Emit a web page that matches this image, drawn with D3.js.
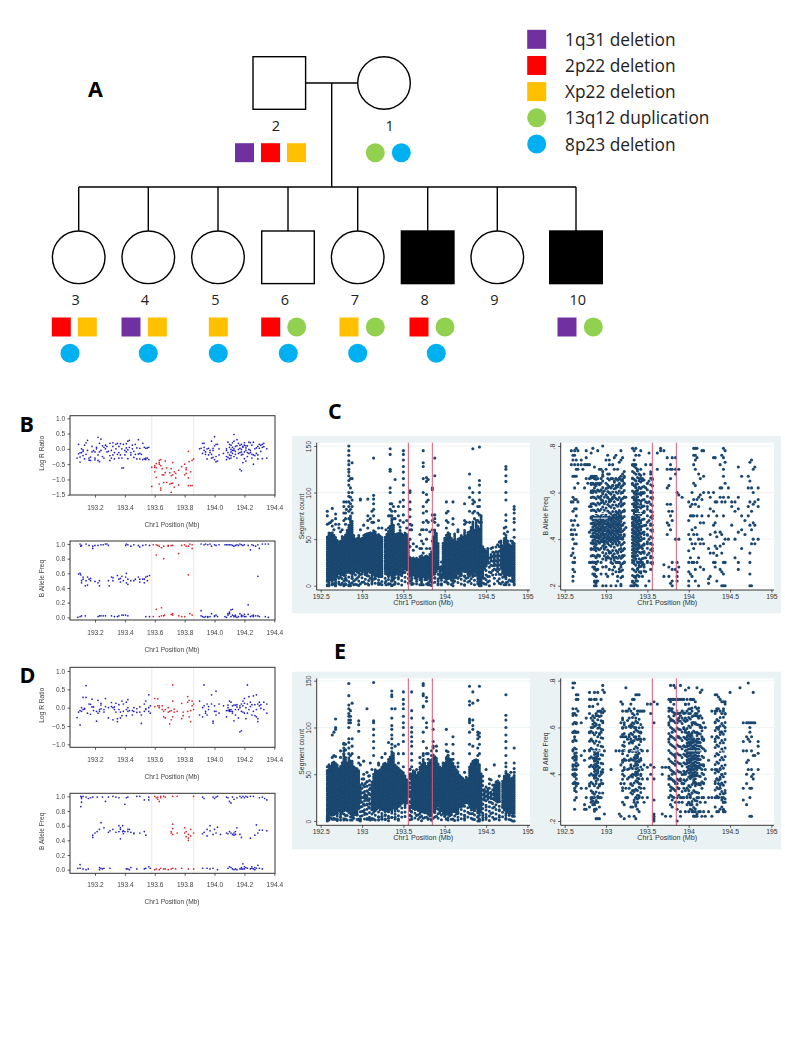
<!DOCTYPE html>
<html><head><meta charset="utf-8">
<script src="https://cdn.jsdelivr.net/npm/d3@7/dist/d3.min.js"></script>
<style>html,body{margin:0;padding:0;background:#fff}svg{display:block}</style>
</head><body><svg id="c" width="785" height="1046"></svg>
<script>
// ---------- Pedigree data ----------
const legendLabels=["1q31 deletion","2p22 deletion","Xp22 deletion","13q12 duplication","8p23 deletion"];
const people=[
 {id:2,sex:"m",affected:0},{id:1,sex:"f",affected:0},
 {id:3,sex:"f",affected:0},{id:4,sex:"f",affected:0},{id:5,sex:"f",affected:0},{id:6,sex:"m",affected:0},
 {id:7,sex:"f",affected:0},{id:8,sex:"m",affected:1},{id:9,sex:"f",affected:0},{id:10,sex:"m",affected:1}];
const carried={2:[0,1,2],1:[3,4],3:[1,2,4],4:[0,2,4],5:[2,4],6:[1,3,4],7:[2,3,4],8:[1,3,4],9:[],10:[0,3]};

// ---------- SNP array: [position, value, value ...] ----------
const regionStart=193.58, regionEnd=193.86;
const bLogR=[[193.08,-.3],[193.09,.15,-.16],[193.1,-.43,-.27,-.13],[193.11,0,-.12],[193.12,-.03,-.22,-.08],[193.13,-.33,.12],[193.14,.2,-.18],[193.15,.28,-.05],[193.16,-.3,-.37],[193.17,-.27,-.38],[193.18,.08,-.1],[193.19,-.06],[193.2,-.1,-.3,-.36],[193.21,0,.05],[193.22,.38,-.2,-.38],[193.23,-.1,-.42,.18],[193.24,-.05,.32],[193.25,.1,-.25],[193.26,.05,-.3],[193.27,.12,0],[193.28,.08,-.1],[193.29,-.08],[193.3,.18,-.22,-.38],[193.31,-.05,-.3],[193.32,.2,.08,-.2],[193.33,-.12,-.33],[193.34,0,.15],[193.35,.18,-.18],[193.36,.08,-.12,-.3],[193.37,.17,-.2],[193.38,-.63,0,-.3],[193.39,-.62,.15],[193.4,-.05,-.2],[193.41,.03,-.1,.17],[193.42,.25,-.03,-.32],[193.43,.28,.05],[193.44,-.12,-.2],[193.45,0,.12],[193.46,-.08,-.28],[193.47,-.18,.15],[193.48,-.33,.03],[193.49,-.17,.3],[193.5,-.33,-.15,.02],[193.51,-.18],[193.52,-.35,.18],[193.53,-.33,.05],[193.54,-.3,.02,-.35],[193.55,.03,-.3],[193.56,.05,-.35],
[193.58,-1.23,-.6],[193.6,-.55,-.6,-.75],[193.61,-.48,-.62,-.93],[193.63,-.5,-.45,-.38,-1.15],[193.64,-.35,-.55,-1.35,-1.28],[193.65,-.65,-.85],[193.66,-.85,-1.1],[193.67,-.4,-.78],[193.68,-1.1,-.62],[193.7,-.78,-1.15],[193.71,-.88,-1.13,-1.42,-.65],[193.72,-1.12,-.45,-.85],[193.73,-.75,-1.25],[193.74,-.8,-.95],[193.76,-1.18,-.7],[193.78,-.58],[193.8,-.5,-.85],[193.81,-.62,-.68,-.8],[193.825,-.08,-.95,-1.2],[193.83,-.42],[193.84,-1.2,-.75],[193.85,-1.2,-.38],[193.86,-.33],
[193.9,0],[193.91,.02],[193.92,.18,-.15],[193.93,.05,.18,-.05],[193.94,-.1,-.18],[193.95,0,-.33],[193.96,.02,-.2],[193.97,-.12,-.05],[193.98,.25,-.3,-.18],[193.99,-.05,-.28,.02],[194,.4,.1,-.35],[194.01,-.42,.15,-.25],[194.02,-.4,.15],[194.03,-.2,0],[194.06,-.15],[194.08,-.05,0,-.25,-.35],[194.09,.22,-.12,-.28],[194.1,.15,-.2,-.32,.05],[194.11,.12,-.02,-.1,-.22,-.3],[194.12,.2,-.05,.05,-.15],[194.13,0,-.05,.47,-.25,.25],[194.14,-.08,.08,-.18],[194.15,-.3,.1,.3],[194.16,-.02,-.15,.18],[194.17,.02,.12,-.12,-.67],[194.18,.15,-.1,-.72,-.2,-.02],[194.19,.08,-.45,.05,-.18],[194.2,.2,.12,-.1,-.32],[194.21,-.05,.03,-.4,.1],[194.22,.1,-.12,-.25],[194.23,.22,-.02,-.15],[194.24,.2,-.12,-.05],[194.25,-.18,-.3,.12],[194.26,-.5,.22,-.2],[194.27,-.22,0],[194.28,.03,-.15],[194.29,.08,-.33,-.2],[194.3,.15,.02],[194.31,.12,-.08],[194.32,.15,-.32,.05],[194.33,.18,.07],[194.35,-.3,0]];
const bAllele=[[193.085,0],[193.09,.59],[193.1,.6,1,.01],[193.105,.97,.58],[193.11,.98,.5,.47,.02],[193.12,.55,.52],[193.135,.43,.02],[193.14,1,.5],[193.15,.44,.55],[193.16,.52,.98],[193.17,.53,.5],[193.185,.97,.94],[193.2,.98,.49],[193.22,.98,.01,.47],[193.23,.5,.02,.43],[193.24,.99,.02],[193.255,.99,.02],[193.27,1,.02],[193.28,1],[193.29,.98,.5],[193.295,.43],[193.31,.02,.55],[193.32,.5,.54],[193.33,.01],[193.35,.57,.01],[193.36,.52,.02],[193.37,.53,.48],[193.38,.03,.56],[193.39,.5,.03],[193.405,.98,.03,.55],[193.41,1,.6,.47],[193.42,.99,.02,.52,.45],[193.44,.97,.5],[193.46,.99,.5],[193.47,.52],[193.49,.98,.55],[193.5,.96,.48,.52],[193.52,.98,.52],[193.53,.47,.52],[193.54,.99,.01,.55],[193.55,.5,.56],[193.565,.98,.57,.01],
[193.59,.99,.01],[193.61,.99,.11,.85],[193.62,.98],[193.63,.97,.01],[193.645,.95,.13,.02],[193.66,.8,.02,.97],[193.665,.03],[193.69,.98,.97],[193.71,.04,.98],[193.72,.05,.03,.98],[193.76,.87,.02],[193.78,.98,.01],[193.8,.99,.01],[193.81,.97],[193.825,.58,.97],[193.835,.05,1],[193.85,.94,.03,.99],
[193.91,.09,1,.02],[193.92,.01],[193.93,.99,0],[193.94,1,.01],[193.955,.99,.01,0],[193.97,1,.01],[193.98,.97,.05],[194,.99,.01,.02],[194.01,.98,.03],[194.02,.01],[194.03,.99],[194.07,.99,.01],[194.08,.99,0],[194.09,.99,.03,.05],[194.1,.99,.05,.07],[194.11,.99,.1,.01],[194.12,.11,.98,.03],[194.13,.97,.01,.02],[194.14,.98,.01,.03],[194.15,.99,0],[194.16,.98,.01],[194.17,1,.05],[194.18,.99,.03,.01],[194.19,.98,.02],[194.2,.99,.01,.04],[194.21,.01],[194.225,.98,.17,.04],[194.24,.92,.01],[194.25,.99,.02],[194.26,.98,.03,.01],[194.275,.97,.02],[194.29,.99,.56,.02],[194.3,.94,.01],[194.32,1],[194.34,1,.01],[194.36,1,0]];
const dLogR=[[193.08,-.27],[193.09,-.12],[193.1,-.47,-.08],[193.11,.0,-.1],[193.12,.28,-.05],[193.13,-.02,-.04],[193.14,.6,.28],[193.15,-.15],[193.16,.1],[193.17,.09,-.18],[193.18,.23,.02],[193.19,-.08,.02],[193.21,-.37,-.1],[193.22,.2,-.15],[193.23,-.05,-.1],[193.24,.07,.12,-.03],[193.26,-.05,-.12],[193.27,.25,.03],[193.29,.0,-.28],[193.31,.14,.03],[193.32,-.33,.0],[193.33,.02,-.05],[193.34,.12,-.12],[193.35,-.38,-.3],[193.36,.08,-.05],[193.37,-.12,-.28],[193.38,.18,-.22],[193.39,.1,-.1],[193.41,.15,-.05,-.22],[193.42,.22,-.1,.0],[193.43,-.08],[193.45,-.08,-.2],[193.46,-.1,.0],[193.48,-.03,-.13],[193.5,.02,-.12],[193.51,-.43,-.2],[193.53,.1,-.1],[193.54,.18,-.03,-.05],[193.56,.35,.0,-.1],[193.57,.05,-.15],
[193.6,.25,.03],[193.62,.24,.05],[193.63,.0,.05],[193.65,.05,-.05],[193.66,-.25,-.1],[193.67,-.28,-.05],[193.69,-.12,.0],[193.7,-.44,-.1],[193.71,-.33,-.08],[193.72,.62,.18,-.25],[193.73,-.12,-.04],[193.75,-.1],[193.78,.12,-.3],[193.79,-.22,-.12],[193.82,.3,-.1,.15],[193.83,.2,-.25],[193.84,-.38,-.08],[193.85,.18,.05],[193.86,.1,-.05],
[193.9,.18,-.2],[193.92,.0,-.25],[193.93,.62,.05],[193.94,-.1,-.15],[193.95,-.2,.1],[193.96,-.05,.03],[193.98,.1,.35],[193.99,-.42,-.37],[194.0,-.1,.05],[194.01,-.1,.45,-.2],[194.03,.1,-.15],[194.06,.05],[194.08,-.25,-.08],[194.09,.0,-.08,.07],[194.1,.18,-.05,-.1,-.07],[194.11,-.1,-.05,.15],[194.12,-.1,.05,-.15],[194.13,.07,-.36],[194.14,.07,-.2,-.05],[194.15,.02,.08],[194.16,-.28,-.05],[194.17,-.66,.05,.0],[194.18,-.63,.1,-.1],[194.19,.05,.18,-.12],[194.2,.25,.12,-.15],[194.21,-.3,.0],[194.22,.62,.1,-.15],[194.23,.3,-.05],[194.24,.15,.03],[194.25,.08,-.2],[194.26,.32,-.1],[194.27,.08,-.22],[194.28,.35,-.05,-.25],[194.29,-.38,.1,-.3],[194.3,.05,.15],[194.31,-.02,.08],[194.33,.15,-.05],[194.35,.1,-.15]];
const dAllele=[[193.085,.02],[193.1,.07,.02],[193.105,.86,1],[193.11,.99,.97,.92],[193.12,.01,1],[193.14,0,.99],[193.155,.01,.97],[193.17,.98],[193.185,.47,.44,.99],[193.2,.5],[193.215,.52,.99],[193.23,.55,.03,0],[193.24,.64,.02],[193.25,.99,.01],[193.26,.57,.02],[193.27,.93],[193.29,.99,.51],[193.3,.53,.02],[193.32,.55,1],[193.34,.51,.99],[193.36,.6,.52,.98],[193.37,.42,.57,.55],[193.385,.6,.52],[193.39,.49,.53],[193.4,.89,.52],[193.41,.98,.01],[193.42,.99,.55,.52,.01],[193.43,.0,.55],[193.44,.51,.03],[193.46,.49,.5],[193.48,1,.01],[193.5,1,.5],[193.53,.95,.52,.01],[193.54,.47,.02],[193.56,.99,.04,.95],[193.57,.02],
[193.6,1,0],[193.61,.98,.01],[193.62,.99,.96],[193.63,.93,.0],[193.64,1,.98,.02],[193.66,1,.01],[193.67,.99,.01],[193.69,.0],[193.71,.5,.52,.01],[193.72,.62,.56,.48,1,.02],[193.74,.01],[193.75,1,.5],[193.78,.02],[193.8,.57,.5],[193.81,.45,.52],[193.825,.4,.43,.48,.01],[193.84,.55,.46],[193.86,1,.01,.5],
[193.92,.99,.02,.49],[193.93,.97,.51],[193.95,.55,.46,.02],[193.97,.6,.53,.01],[193.99,.99,.48,.02],[194,.97,.55],[194.01,.99,.5],[194.02,1,.58,.0],[194.04,.48],[194.08,.5,.99],[194.09,.98,.02,.49],[194.1,.93,.04,.52],[194.11,.91,.03,.5],[194.12,.99,.48,.01],[194.13,.96,.47,.5,0],[194.14,.52,.01,.48],[194.15,.57,.98,.0],[194.17,.48,.01,1],[194.18,.44,.03,.01,.98],[194.19,1,.08,.01],[194.2,.98,.04,.01],[194.21,1,.03],[194.22,.99,.02],[194.24,.43,.01,1],[194.25,.02,.04],[194.26,1,.01],[194.27,.47,.0,.03],[194.28,.61,.02],[194.29,.5,.06],[194.3,.54,.98,.02],[194.32,.99,.54,.01],[194.335,.97],[194.35,.95,.53]];

// ---------- Sequencing panels ----------
// Solid masses of dots: [position, low, high]
const cCountMass=[[192.58,5,54],[192.6,4,57],[192.62,5,57],[192.64,5,58],[192.66,6,56],[192.68,5,53],[192.7,10,50],[192.72,12,48],[192.74,10,50],[192.76,12,53],[192.78,10,52],[192.8,12,56],[192.82,14,60],[192.84,14,66],[192.86,12,75],[192.88,10,70],[192.9,12,54],[192.92,14,52],[192.94,14,52],[192.96,12,54],[192.98,14,50],[193,12,52],[193.02,14,56],[193.04,10,56],[193.06,10,56],[193.08,14,58],[193.1,14,58],[193.12,10,58],[193.14,10,60],[193.16,8,58],[193.18,10,56],[193.2,8,56],[193.22,10,54],[193.24,10,52],[193.28,14,54],[193.3,12,56],[193.32,12,60],[193.34,10,66],[193.36,6,72],[193.38,5,66],[193.4,10,56],[193.42,12,56],[193.44,14,58],[193.46,12,60],[193.48,12,56],[193.5,14,56],[193.52,16,58],[193.54,16,56],[193.56,18,50],[193.58,10,32],[193.6,10,30],[193.62,10,30],[193.64,8,30],[193.66,6,30],[193.68,8,28],[193.7,6,32],[193.72,4,34],[193.74,8,32],[193.76,6,32],[193.78,6,32],[193.8,6,32],[193.82,4,34],[193.84,6,38],[193.86,10,54],[193.88,12,60],[193.9,14,56],[193.92,16,46],[193.94,8,22],[193.98,8,46],[194,6,52],[194.02,6,56],[194.04,8,58],[194.06,8,56],[194.08,5,52],[194.1,4,50],[194.12,8,56],[194.14,8,48],[194.16,12,52],[194.18,10,52],[194.2,10,56],[194.22,14,52],[194.24,16,60],[194.26,14,54],[194.28,10,58],[194.3,10,60],[194.32,12,65],[194.34,10,70],[194.36,14,60],[194.38,10,70],[194.4,5,65],[194.42,2,62],[194.44,2,75],[194.46,8,42],[194.48,18,40],[194.5,20,38],[194.52,24,40],[194.56,26,34],[194.6,20,36],[194.64,18,38],[194.68,18,46],[194.7,14,44],[194.72,12,52],[194.74,8,56],[194.76,10,50],[194.78,12,46],[194.8,10,44],[194.82,5,48],[194.84,2,46]];
// Thin clouds of separate dots: [position, low, high]
const cCountCloud=[[192.58,0,6],[192.6,0,6],[192.64,0,8],[192.68,0,8],[192.72,0,14],[192.76,0,14],[192.8,0,14],[192.84,0,16],[192.88,0,14],[192.92,0,14],[192.96,0,14],[193,0,14],[193.04,0,12],[193.08,0,14],[193.12,0,12],[193.16,0,10],[193.2,0,10],[193.24,0,12],[193.28,0,16],[193.32,0,14],[193.36,0,8],[193.4,0,12],[193.44,0,14],[193.48,0,14],[193.52,0,18],[193.56,0,20],[193.6,0,12],[193.66,0,8],[193.72,0,6],[193.78,0,8],[193.84,0,8],[193.88,0,14],[193.92,0,16],[193.96,0,30],[194,0,8],[194.04,0,10],[194.08,0,6],[194.12,0,10],[194.16,0,14],[194.2,0,12],[194.24,0,16],[194.28,0,12],[194.32,0,14],[194.36,0,14],[194.4,0,6],[194.46,0,10],[194.5,0,22],[194.54,0,30],[194.58,8,44],[194.62,10,46],[194.66,2,50],[194.7,0,16],[194.74,0,10],[194.78,0,14],[194.82,0,6]];
// Single dots: [position, value, value ...]
const cCountDots=[[192.58,80,75,66,1],[192.6,67,1,0],[192.62,68],[192.64,83,70,64,2,1],[192.66,2,60],[192.68,77,72,66,0,3],[192.72,66,62,8,2],[192.74,1,9,58],[192.76,60,12],[192.78,90,85,78,70,1,5,0],[192.8,78,72,66,2,8],[192.81,90,82,6],[192.84,150,145,140,134,130,125,122,118,113,108,100,96,90,85,80,72,1,0],[192.86,115,105,95,88,82,2,0],[192.88,132,115,100,92,85,78,8],[192.9,5,1],[192.94,8,1],[192.98,93,92,60,2,12],[193.02,65,4],[193.07,93,75,70,62,2],[193.1,72,8],[193.12,80,68,6,2],[193.14,137,97,93,88,82,75,68,7],[193.2,70,62,3],[193.22,2,10],[193.24,62,1],[193.29,60,5,1],[193.32,75,62,10,2],[193.34,147,141,125,123,105,100,88,82,75,2],[193.36,88,80,75,5,0],[193.38,85,72,1],[193.4,114,80,72,2],[193.44,85,75,66,9],[193.46,90,70,63,12],[193.5,145,141,135,128,122,115,108,100,92,85,76,68,14],[193.54,70,62,18],[193.58,102,100,90,82,74,66,60,50,42,5],[193.6,65,60,8,3],[193.62,45,38,2],[193.66,42,2],[193.7,55,40,1],[193.72,60,48,40,1],[193.74,145,132,128,115,100,85,78,68,60,45,35,1],[193.78,116,112,98,90,80,70,60,50,40],[193.8,114,92,68,1,3],[193.82,58,40,1],[193.85,105,103,76,70,60,48,3],[193.88,137,118,76,72,68,8],[193.92,65,5,1],[193.96,18,12,8,2],[194.02,90,78,70,62,4],[194.04,80,68,2],[194.1,90,72,66,3,0],[194.16,58,60,8],[194.24,88,70,66,10,1],[194.26,68,8],[194.3,120,105,95,80,68,5],[194.34,147,100,92,88,78,10],[194.36,90,80,72],[194.4,85,78,70,2],[194.42,149,113,108,100,92,85,76,68,0,1],[194.44,75,68,2,0],[194.48,18,8,2],[194.52,10,4],[194.56,22,14,40],[194.6,18,8,2],[194.64,15,5,44],[194.68,48,12,2],[194.72,62,56,10,1],[194.74,128,125,118,112,100,92,76,70,63,1,3],[194.76,58,4],[194.8,48,5],[194.84,85,82,78,72,68,60,52,1]];
const cBafMass=[[192.84,.38,.5],[192.86,.36,.5],[192.88,.36,.52],[192.9,.38,.5],[192.92,.38,.5],[192.94,.38,.5],[192.96,.38,.5],[192.98,.36,.5],[193,.38,.5],[193.02,.38,.5],[193.04,.38,.5],[193.06,.38,.5],[193.08,.38,.5],[193.1,.38,.5],[193.12,.38,.52],[193.14,.38,.52],[193.16,.38,.52],[193.18,.4,.5],[193.32,.3,.5],[193.34,.3,.6],[193.36,.3,.66],[193.38,.34,.62],[193.4,.36,.52],[193.42,.4,.48]];
const cBafCloud=[[192.82,.3,.68],[192.84,.28,.68],[192.86,.2,.68],[192.88,.2,.68],[192.9,.3,.66],[192.92,.3,.66],[192.94,.34,.66],[192.96,.3,.68],[192.98,.32,.62],[193,.28,.64],[193.02,.3,.66],[193.04,.3,.66],[193.06,.3,.64],[193.08,.26,.64],[193.1,.28,.66],[193.12,.3,.66],[193.14,.3,.66],[193.16,.26,.68],[193.18,.2,.68],[193.2,.24,.68],[193.22,.28,.68],[193.32,.2,.72],[193.34,.2,.72],[193.36,.2,.72],[193.38,.22,.7],[193.4,.24,.68],[193.42,.24,.68],[193.44,.28,.66],[193.46,.26,.66],[193.5,.28,.66],[193.54,.28,.7],[193.56,.28,.66]];
const cBafDots=[[192.58,.78,.72,.56,.48,.44,.42,.33],[192.6,.76,.74,.67,.58,.56,.52,.46,.42,.4,.36,.34,.3,.27,.24,.22],[192.62,.78,.76,.72,.67,.62,.57,.53,.48,.44,.38,.32,.3,.26],[192.64,.79,.74,.7,.67,.57,.53,.5,.42,.38],[192.66,.78,.72,.7,.64,.56,.46],[192.7,.72,.74],[192.72,.7],[192.74,.72,.62],[192.76,.78,.75,.72,.66],[192.78,.72,.64],[192.8,.72,.66,.54,.43,.3],[192.82,.77,.67,.64,.6,.54,.49,.36,.3],[192.84,.79,.67,.64,.6,.33,.28,.25],[192.86,.71,.67,.62,.66,.3,.22,.2,.28,.25],[192.88,.67,.64,.3,.27,.24,.22,.2,.32],[192.9,.78,.66,.61,.33,.27,.22],[192.92,.7,.64,.58,.33],[192.94,.7,.66,.61,.57,.3,.25],[192.96,.8,.69,.67,.6,.56,.28,.2],[193,.74,.7,.64,.59,.32,.28,.25,.2],[193.02,.76,.68,.62,.58,.32,.24],[193.04,.74,.72,.68,.6,.56,.34,.27],[193.06,.66,.62,.57,.3,.2],[193.08,.72,.66,.63,.58,.33,.25],[193.1,.75,.7,.65,.58,.32,.28],[193.12,.76,.66,.62,.3,.26,.2],[193.14,.7,.63,.34,.3,.24,.22],[193.16,.73,.66,.64,.3,.26],[193.18,.78,.74,.67,.62,.56,.5,.36,.32,.28,.2],[193.2,.75,.68,.65,.6,.55,.46,.4,.33,.24],[193.22,.69,.67,.64,.58,.52,.42,.36,.3],[193.24,.58,.45],[193.3,.2],[193.32,.79,.72,.66,.64,.22,.2],[193.34,.78,.74,.72,.24,.2],[193.36,.79,.76,.72,.24,.22],[193.38,.7,.22,.2,.27,.3],[193.4,.76,.68,.66,.62,.3,.28,.24],[193.42,.78,.7,.66,.6,.55,.34,.3,.26],[193.44,.66,.6,.54,.36,.3,.24],[193.46,.68,.6,.52,.42,.38,.34,.28],[193.48,.72,.62,.56,.46,.32,.26,.2],[193.5,.64,.54,.42,.38,.3],[193.52,.77,.65,.56,.48,.4,.34,.22],[193.54,.72,.68,.6,.52,.46,.38,.32,.27],[193.56,.66,.63,.58,.5,.44,.36,.3],[193.62,.77,.7],[193.66,.78,.79],[193.7,.78,.24,.29],[193.74,.75,.7,.62,.55,.47,.42],[193.76,.63,.52,.46,.28,.24],[193.78,.72,.7,.66,.55,.5,.44,.21],[193.8,.75,.7,.52,.48,.3,.27,.22,.2],[193.84,.75,.7,.68,.4,.27],[193.86,.6,.3,.24,.22,.26],[193.88,.7,.59,.4,.28],[193.92,.58],[194,.56,.48,.42,.35,.3,.26,.22,.2],[194.02,.54,.5,.4,.32,.25],[194.04,.6,.55,.5,.44,.38,.3,.24],[194.06,.79,.76,.72,.64,.57,.5,.42,.36,.3],[194.08,.79,.76,.74,.7,.63,.55,.45,.38,.27,.22],[194.1,.79,.75,.57,.5,.42,.3],[194.12,.68,.58,.54,.4,.32,.2],[194.14,.66,.59,.47,.38,.28],[194.16,.78,.57,.5,.4],[194.18,.78,.67,.6,.47,.38,.27],[194.24,.6,.5,.36,.23,.21],[194.26,.58,.53,.42,.34,.24],[194.3,.75,.6,.52,.46,.34,.3],[194.32,.75,.56,.47,.43,.37,.3,.28],[194.34,.56,.5,.41,.36,.33,.22],[194.38,.72,.62,.58,.43,.37,.27],[194.4,.76,.62,.56,.42,.34,.26,.2],[194.42,.79,.75,.7,.67,.58,.5,.38,.3,.25,.2],[194.44,.78,.73,.64,.56,.4,.3,.2],[194.48,.62,.58,.4],[194.52,.56,.54,.46],[194.56,.56,.52,.4,.32],[194.6,.71,.58,.53,.43,.3,.27],[194.64,.67,.5,.44,.36],[194.68,.48,.42],[194.72,.67,.62,.54,.5],[194.74,.73,.65,.56,.46,.34,.3,.25,.2],[194.76,.74,.62,.52,.44,.38,.2],[194.78,.7,.6,.55,.47,.4],[194.8,.71,.56,.46,.38],[194.84,.62,.57,.54,.4]];
const cBafGaps=[[192.84,193.02,.51],[192.84,193.02,.49],[193.35,193.44,.51]];
const eCountMass=[[192.58,5,54],[192.6,3,58],[192.62,5,60],[192.64,6,62],[192.66,6,64],[192.68,6,62],[192.7,8,60],[192.72,10,58],[192.74,5,60],[192.76,8,64],[192.78,10,72],[192.8,10,70],[192.82,12,62],[192.84,8,68],[192.86,6,66],[192.88,5,64],[192.9,5,60],[192.92,5,58],[192.94,6,58],[192.96,12,54],[192.98,20,40],[193.12,14,42],[193.14,8,52],[193.16,10,56],[193.18,12,54],[193.2,14,54],[193.22,12,56],[193.24,12,60],[193.26,10,62],[193.28,10,64],[193.3,10,62],[193.32,10,66],[193.34,12,70],[193.36,10,76],[193.38,12,74],[193.4,10,62],[193.42,12,60],[193.44,14,58],[193.46,16,56],[193.48,18,54],[193.5,18,52],[193.52,16,50],[193.54,18,46],[193.56,24,42],[193.6,16,52],[193.62,12,56],[193.64,10,54],[193.66,12,50],[193.68,10,54],[193.7,8,58],[193.72,10,62],[193.74,8,66],[193.76,10,62],[193.78,8,60],[193.8,6,62],[193.82,5,64],[193.84,6,66],[193.86,8,72],[193.88,10,70],[193.9,12,68],[193.92,14,62],[193.94,8,60],[193.96,10,58],[193.98,6,64],[194,5,62],[194.02,6,68],[194.04,5,70],[194.06,5,68],[194.08,6,66],[194.1,8,62],[194.12,10,60],[194.14,6,56],[194.16,10,54],[194.18,14,50],[194.2,14,48],[194.22,16,46],[194.24,18,44],[194.26,18,48],[194.28,20,46],[194.3,14,58],[194.32,10,62],[194.34,12,66],[194.36,10,66],[194.38,12,66],[194.4,8,66],[194.42,5,62],[194.44,8,52],[194.48,22,36],[194.52,22,36],[194.56,22,32],[194.6,22,40],[194.62,20,42],[194.64,18,44],[194.66,20,42],[194.7,14,44],[194.72,12,50],[194.74,5,54],[194.76,8,52],[194.78,6,50],[194.8,8,46],[194.82,4,48],[194.84,8,50]];
const eCountCloud=[[192.58,0,8],[192.62,0,8],[192.66,0,8],[192.7,0,10],[192.74,0,8],[192.78,0,12],[192.82,0,14],[192.86,0,8],[192.9,0,6],[192.94,0,8],[192.98,0,22],[193,2,48],[193.03,0,40],[193.06,2,46],[193.09,0,50],[193.12,0,16],[193.16,0,12],[193.2,0,16],[193.24,0,14],[193.28,0,12],[193.32,0,12],[193.36,0,12],[193.4,0,12],[193.44,0,16],[193.48,0,20],[193.52,2,20],[193.58,0,56],[193.6,0,20],[193.64,0,12],[193.68,0,12],[193.72,0,12],[193.76,0,12],[193.8,0,8],[193.84,0,8],[193.88,0,12],[193.92,0,16],[193.96,0,12],[194,0,6],[194.04,0,6],[194.08,0,8],[194.12,0,12],[194.16,0,12],[194.2,0,16],[194.24,0,20],[194.28,0,22],[194.32,0,12],[194.36,0,12],[194.4,0,10],[194.46,0,50],[194.5,0,40],[194.54,0,45],[194.58,0,40],[194.62,0,22],[194.66,0,22],[194.7,0,16],[194.74,0,6],[194.78,0,8],[194.82,0,6]];
const eCountDots=[[192.58,58,54,1,3],[192.6,60,1],[192.64,92,68,62,2],[192.66,70,95,3],[192.68,109,100,98,69,2],[192.7,2,8],[192.74,75,68,1,4],[192.78,83,82,78,75,72,1],[192.8,82,76,2,6],[192.84,147,134,124,120,115,112,108,105,100,88,84,78,72],[192.86,118,112,108,105,70,1],[192.88,126,88,80,72,1,4],[192.96,107,103,96,68,62,1,2],[192.98,60,15,2],[193.02,64,50,45,38,30,25,18,10],[193.04,28,24,40,8],[193.06,120,32,25,52,42,18,2],[193.08,30,22,15,48,2],[193.1,35,28,18,62,1],[193.12,55,12,2],[193.14,148,107,105,98,92,85,78,70,2],[193.2,60,62,4,1],[193.24,68,2,5],[193.28,72,2,6],[193.32,84,10,3],[193.36,139,135,133,120,110,102,98,92,88,82,78,4],[193.4,120,80,4],[193.44,82,72,62,2],[193.5,138,130,125,120,112,105,100,92,85,72,58],[193.58,55,48,36,28,20,14,6],[193.6,138,118,110,100,95,90,85,80,72,65,58,10,2],[193.66,55,6],[193.7,62,68,4],[193.74,147,145,136,134,123,122,110,95,85,72,70,3],[193.78,132,128,105,100,78,72,4],[193.8,66,72,2],[193.84,75,70,2],[193.86,107,98,85,80,78,3],[193.9,80,75,5],[194.02,98,82,75,2],[194.04,70,74,1],[194.1,90,82,72,66,2],[194.16,58,62,1,8],[194.24,52,6,3],[194.3,144,128,124,109,107,105,95,82,72,8],[194.34,138,126,108,102,98,80,8,2],[194.4,129,95,92,88,78,70,4],[194.42,144,94,90,82,72,2,0],[194.46,18,6,1],[194.5,15,4,55],[194.56,20,8,44],[194.6,60,15,2],[194.66,48,12,4],[194.74,135,113,108,100,92,85,78,70,62,58,2],[194.8,52,1],[194.84,78,62,56,52,5,0]];
const eBafMass=[[192.62,.46,.5],[192.64,.44,.5],[192.86,.38,.5],[192.88,.36,.5],[192.9,.4,.5],[193.36,.38,.5],[193.38,.36,.5],[193.84,.44,.5],[193.98,.42,.58],[194,.4,.58],[194.02,.38,.58],[194.04,.38,.58],[194.06,.36,.56],[194.08,.34,.54],[194.1,.4,.58],[194.12,.42,.56]];
const eBafCloud=[[192.6,.36,.68],[192.62,.3,.66],[192.64,.3,.66],[192.8,.34,.6],[192.82,.28,.62],[192.84,.28,.68],[192.86,.24,.66],[192.88,.22,.66],[192.9,.28,.68],[192.92,.3,.66],[192.94,.36,.68],[192.96,.4,.68],[193.2,.34,.64],[193.22,.36,.62],[193.28,.36,.64],[193.3,.3,.64],[193.32,.3,.66],[193.34,.28,.68],[193.36,.26,.66],[193.38,.26,.66],[193.4,.28,.66],[193.42,.3,.62],[193.76,.34,.7],[193.78,.3,.73],[193.8,.3,.68],[193.82,.3,.72],[193.84,.3,.66],[193.86,.32,.7],[193.88,.32,.65],[193.9,.36,.69],[193.92,.32,.63],[193.94,.34,.67],[193.96,.34,.71],[193.98,.28,.64],[194,.26,.7],[194.02,.26,.67],[194.04,.24,.72],[194.06,.22,.65],[194.08,.22,.69],[194.1,.26,.66],[194.12,.3,.7],[194.14,.34,.63],[194.16,.36,.6],[194.18,.36,.58],[194.32,.3,.68],[194.34,.28,.7],[194.36,.28,.64],[194.38,.3,.67],[194.4,.28,.63],[194.42,.24,.69],[194.44,.26,.66]];
const eBafDots=[[192.6,.79,.77,.68,.66,.58,.54,.5,.47,.44,.42,.4],[192.62,.79,.66,.62,.58,.56,.42,.39,.36,.34,.29,.25],[192.64,.74,.72,.68,.62,.58,.42,.38,.35,.3],[192.66,.74,.72,.67,.58,.44,.36],[192.7,.62,.48,.34],[192.74,.5,.46,.27,.25],[192.76,.64,.34,.25,.3],[192.8,.75,.72,.69,.66,.58,.5,.35,.26],[192.82,.72,.64,.6,.55,.3,.28],[192.84,.69,.63,.6,.32,.3,.27],[192.86,.75,.72,.62,.3,.27,.25],[192.88,.72,.66,.61,.28,.25,.21],[192.9,.75,.7,.65,.3,.21,.28],[192.92,.67,.6,.57,.35,.3,.26,.21],[192.94,.72,.67,.65,.58,.4,.36,.3],[192.96,.78,.76,.68,.62,.42,.36,.32],[192.98,.75,.67,.5,.23],[193.06,.42],[193.12,.5],[193.16,.5,.23],[193.18,.71,.62,.56,.44,.36,.22],[193.2,.7,.67,.64,.6,.57,.5,.46,.4,.33,.28],[193.22,.62,.56,.52,.46,.42,.36,.27,.21],[193.24,.77,.67,.6,.56,.46,.34,.3],[193.26,.67,.63,.55,.48,.42,.38,.3],[193.28,.68,.64,.56,.5,.46,.34,.22],[193.3,.7,.67,.6,.55,.44,.36,.26],[193.32,.72,.66,.62,.54,.4,.33,.26],[193.34,.72,.68,.6,.56,.46,.33,.28,.22],[193.36,.74,.64,.6,.56,.3,.27,.21],[193.38,.74,.67,.62,.31,.28,.25],[193.4,.74,.67,.58,.55,.46,.36,.3,.24],[193.42,.67,.58,.55,.46,.4,.34],[193.44,.67,.6,.5,.42,.38,.3],[193.46,.67,.55,.44,.34,.28],[193.5,.7,.5,.43,.38,.3],[193.54,.7,.66,.44,.4],[193.58,.71,.62,.43,.38,.29,.23,.22,.21,.2],[193.62,.7],[193.68,.4,.43,.23],[193.72,.43,.22],[193.76,.72,.67,.62,.55,.43,.38,.3],[193.78,.78,.72,.68,.63,.56,.38,.33,.27,.22],[193.8,.72,.68,.63,.58,.4,.34,.29,.26],[193.82,.78,.72,.65,.37,.3],[193.84,.77,.72,.66,.36,.33,.28],[193.86,.72,.66,.62,.56,.36,.3,.25,.2],[193.88,.72,.66,.64,.56,.34,.31,.28],[193.9,.78,.72,.65,.38,.3,.24,.22],[193.92,.72,.67,.64,.36,.3,.28],[193.94,.72,.66,.6,.52,.4,.36,.3],[193.96,.76,.7,.64,.58,.5,.4,.33,.24],[193.98,.72,.67,.63,.34,.3,.27],[194,.77,.7,.66,.33,.28,.24],[194.02,.72,.68,.66,.3,.27,.25],[194.04,.72,.67,.62,.32,.27,.24],[194.06,.72,.65,.62,.24,.22],[194.08,.71,.66,.62,.22,.24],[194.1,.77,.68,.66,.3,.27,.23,.22],[194.12,.67,.64,.36,.3,.24],[194.14,.75,.65,.6,.52,.44,.36,.28,.24],[194.16,.76,.64,.6,.56,.42,.34,.3,.22],[194.18,.62,.55,.44,.36,.3,.24],[194.2,.6,.5,.42,.38,.28,.22],[194.24,.46,.3,.24],[194.28,.67,.56,.42,.3,.22],[194.32,.74,.67,.62,.54,.42,.36,.3,.26],[194.34,.74,.68,.6,.56,.42,.38,.3,.24],[194.36,.73,.68,.6,.36,.3,.24],[194.38,.72,.67,.58,.42,.38,.34,.25],[194.4,.71,.66,.58,.4,.36,.3,.26],[194.42,.71,.67,.3,.28,.25,.24],[194.44,.71,.7,.66,.6,.32,.28,.24],[194.5,.75],[194.62,.77],[194.66,.62,.54,.5,.34,.29],[194.7,.62,.5,.56,.45,.4,.36,.27],[194.72,.79,.62,.55,.46,.42],[194.74,.62,.6,.58,.54,.34,.3,.22],[194.76,.62,.56,.5,.42,.39,.34,.22],[194.78,.75,.62,.48,.4,.38],[194.8,.62,.48],[194.84,.54,.52,.49,.42]];
const eBafGaps=[[192.6,192.98,.5],[193.2,193.42,.5],[193.8,194.24,.5],[194.32,194.44,.5],[193.84,194.04,.67]];
const snpTicks=[193.2,193.4,193.6,193.8,194.0,194.2,194.4];
const seqTicks=[192.5,193,193.5,194,194.5,195];

// ---------- Drawing ----------
const svg=d3.select("#c");
const colors=["#7030a0","#ff0000","#ffc000","#92d050","#00b0f0"];
function marker(g,i,x,y){
  if(i<3) g.append("rect").attr("x",x-9.5).attr("y",y-9.5).attr("width",19).attr("height",19).attr("fill",colors[i]);
  else g.append("circle").attr("cx",x).attr("cy",y).attr("r",9.5).attr("fill",colors[i]);
}
const uiFont="'Open Sans','Noto Sans',sans-serif";
const lg=svg.append("g");
const legendY=d3.scalePoint().domain(d3.range(5)).range([39.3,144]);
legendLabels.forEach((t,i)=>{
  marker(lg,i,536.7,legendY(i));
  lg.append("text").attr("x",565).attr("y",legendY(i)+6.5).attr("font-family",uiFont).attr("font-size",17.3).attr("fill","#222").text(t);
});
const pg=svg.append("g");
const line=(a,b,c,d)=>pg.append("line").attr("x1",a).attr("y1",b).attr("x2",c).attr("y2",d).attr("stroke","#000").attr("stroke-width",1.4);
const pos={2:[279.3,83],1:[384,83],3:[78.7,257.3],4:[148.3,257.3],5:[218,257.3],6:[288,257.3],7:[357.7,257.3],8:[427.7,257.3],9:[497.3,257.3],10:[576,257.3]};
line(305.7,83,357.7,83);line(331.7,83,331.7,187);line(78.7,187,576,187);
people.slice(2).forEach(p=>line(pos[p.id][0],187,pos[p.id][0],231));
people.forEach(p=>{
  const [x,y]=pos[p.id];
  if(p.sex==="m") pg.append("rect").attr("x",x-26.3).attr("y",y-26.3).attr("width",52.6).attr("height",52.6).attr("fill",p.affected?"#000":"#fff").attr("stroke","#000").attr("stroke-width",1.4);
  else pg.append("circle").attr("cx",x).attr("cy",y).attr("r",26.3).attr("fill","#fff").attr("stroke","#000").attr("stroke-width",1.4);
});
const labelX={2:276,1:389.7,3:75.7,4:145,5:215.3,6:285,7:355,8:424.7,9:494.3,10:577.7};
people.forEach(p=>pg.append("text").attr("x",labelX[p.id]).attr("y",p.id<3?131:304.5).attr("text-anchor","middle").attr("font-family",uiFont).attr("font-size",14.5).attr("fill","#222").text(p.id));
const markerPos={2:[[244.5,152.7],[270.5,152.7],[296.5,152.7]],1:[[375.3,152.7],[401.3,152.7]],
3:[[61.3,327],[87.3,327],[70,353.3]],4:[[131,327],[157.3,327],[148.3,353.3]],5:[[218.3,327],[218.3,353.3]],
6:[[270.7,327],[296.7,327],[288.3,353.3]],7:[[349,327],[375.3,327],[357.7,353.3]],8:[[419,327],[445,327],[436.3,353.3]],9:[],10:[[567,327],[593.3,327]]};
Object.keys(carried).forEach(id=>carried[id].forEach((c,k)=>marker(pg,c,markerPos[id][k][0],markerPos[id][k][1])));
[["A",88,96.7],["B",19.5,431.7],["C",328,419],["D",19.5,683],["E",334,659]].forEach(([t,x,y])=>
  svg.append("text").attr("x",x).attr("y",y).attr("font-family",uiFont).attr("font-weight",700).attr("font-size",21.5).attr("fill","#000").text(t));

const flat=rows=>rows.flatMap(([x,...ys])=>ys.map(y=>({x,y})));
const plotFont="'Liberation Sans',Arial,sans-serif";
const blurG=svg.append("g").style("filter","blur(0.35px)");
function snpPlot(rows,{top,bottom,yDom,yRange,yTicks,fmt,yTitle,labelY,titleY}){
  const g=blurG.append("g");
  const x=d3.scaleLinear([193.2,194.4],[95,274.3]);
  const y=d3.scaleLinear(yDom,yRange);
  const L=70,R=275;
  [regionStart,regionEnd].forEach(v=>g.append("line").attr("x1",x(v)).attr("x2",x(v)).attr("y1",top).attr("y2",bottom).attr("stroke","#e2e2e2").attr("stroke-width",.8));
  g.append("g").selectAll("circle").data(flat(rows)).join("circle").attr("cx",d=>x(d.x)).attr("cy",d=>y(d.y)).attr("r",.85)
    .attr("fill",d=>d.x>=regionStart&&d.x<=regionEnd?"#d8232a":"#1f1fc0");
  g.append("rect").attr("x",L).attr("y",top).attr("width",R-L).attr("height",bottom-top).attr("fill","none").attr("stroke","#333").attr("stroke-width",1);
  const ax=g.append("g").attr("transform",`translate(0,${bottom})`).call(d3.axisBottom(x).tickValues(snpTicks).tickSize(2.5).tickFormat(d3.format(".1f")));
  const ay=g.append("g").attr("transform",`translate(${L},0)`).call(d3.axisLeft(y).tickValues(yTicks).tickSize(2.5).tickFormat(fmt));
  [ax,ay].forEach(a=>{a.select(".domain").remove();a.selectAll("line").attr("stroke","#333").attr("stroke-width",.8);
    a.selectAll("text").attr("font-family",plotFont).attr("font-size",6.6).attr("fill","#444");});
  ax.selectAll("text").attr("dy",0).attr("y",labelY-bottom+2.4);
  ay.selectAll("text").attr("x",-4.8);
  g.append("text").attr("x",172).attr("y",titleY).attr("text-anchor","middle").attr("font-family",plotFont).attr("font-size",6.6).attr("fill","#444").text("Chr1 Position (Mb)");
  g.append("text").attr("transform",`translate(43.5,${(top+bottom)/2-2}) rotate(-90)`).attr("text-anchor","middle").attr("font-family",plotFont).attr("font-size",6.6).attr("fill","#444").text(yTitle);
}
const f1=d3.format(".1f"), fSigned=v=>(v<0?"\u2212":"")+f1(Math.abs(v));
snpPlot(bLogR,{top:415.7,bottom:495,yDom:[-1.5,1],yRange:[494.7,418.3],yTicks:[-1.5,-1,-.5,0,.5,1],fmt:fSigned,yTitle:"Log R Ratio",labelY:508,titleY:526.5});
snpPlot(bAllele,{top:541,bottom:620,yDom:[0,1],yRange:[617.3,544],yTicks:[0,.2,.4,.6,.8,1],fmt:f1,yTitle:"B Allele Freq",labelY:633,titleY:652});
snpPlot(dLogR,{top:667.3,bottom:747.3,yDom:[-1,1],yRange:[744.3,671],yTicks:[-1,-.5,0,.5,1],fmt:fSigned,yTitle:"Log R Ratio",labelY:760,titleY:778.5});
snpPlot(dAllele,{top:793.3,bottom:873.3,yDom:[0,1],yRange:[869.7,796.3],yTicks:[0,.2,.4,.6,.8,1],fmt:f1,yTitle:"B Allele Freq",labelY:885,titleY:904});

function dottedColumns(g,rows,x,y,gap){
  g.append("g").selectAll("line").data(rows).join("line").attr("x1",d=>x(d[0])).attr("x2",d=>x(d[0])).attr("y1",d=>y(d[1])).attr("y2",d=>y(d[2]))
    .attr("stroke","#1a476f").attr("stroke-width",3).attr("stroke-linecap","round")
    .attr("stroke-dasharray",`0 ${gap}`).attr("stroke-dashoffset",(d,i)=>(i*1.37)%gap);
}
function seqPlot(g,{x0,top,bottom,yDom,yRange,yTicks,fmt,yTitle,mass,cloud,dots,gaps,massGap,cloudGap}){
  const x=d3.scaleLinear([192.5,195],[x0+4,x0+210.7]);
  const y=d3.scaleLinear(yDom,yRange);
  const L=x0,R=x0+213.3;
  g.append("rect").attr("x",L).attr("y",top).attr("width",R-L).attr("height",bottom-top).attr("fill","#fff");
  g.append("g").selectAll("line").data(yTicks).join("line").attr("x1",L).attr("x2",R).attr("y1",d=>y(d)).attr("y2",d=>y(d)).attr("stroke","#eaf2f3").attr("stroke-width",.8);
  dottedColumns(g,cloud,x,y,cloudGap);
  dottedColumns(g,mass,x,y,massGap);
  g.append("g").selectAll("line").data(gaps).join("line").attr("x1",d=>x(d[0])).attr("x2",d=>x(d[1])).attr("y1",d=>y(d[2])).attr("y2",d=>y(d[2]))
    .attr("stroke","#fff").attr("stroke-width",.9).attr("stroke-dasharray","7 1");
  g.append("g").selectAll("circle").data(flat(dots)).join("circle").attr("cx",d=>x(d.x)).attr("cy",d=>y(d.y)).attr("r",1.55).attr("fill","#1a476f");
  [regionStart-.02,regionEnd-.01].forEach(v=>g.append("line").attr("x1",x(v)).attr("x2",x(v)).attr("y1",top).attr("y2",bottom).attr("stroke","#dd5a78").attr("stroke-width",1));
  const ax=g.append("g").attr("transform",`translate(0,${bottom})`).call(d3.axisBottom(x).tickValues(seqTicks).tickSize(2.5).tickFormat(d3.format("")));
  const ay=g.append("g").attr("transform",`translate(${L},0)`).call(d3.axisLeft(y).tickValues(yTicks).tickSize(2.5).tickFormat(fmt));
  [ax,ay].forEach(a=>{a.select(".domain").attr("stroke","#222").attr("stroke-width",.9);a.selectAll("line").attr("stroke","#222").attr("stroke-width",.7);
    a.selectAll("text").attr("font-family",plotFont).attr("font-size",6.8).attr("fill","#333");});
  ax.select(".domain").attr("d",`M${L},0H${R}`);
  ay.select(".domain").attr("d",`M0,${top}V${bottom}`);
  ax.selectAll("text").attr("y",4.2).attr("dy",".71em");
  ay.selectAll("text").attr("x",-5.5).attr("y",0).attr("dy",0).attr("text-anchor","middle").attr("transform","rotate(-90,-5.5,0)");
  g.append("text").attr("x",x0+106.6).attr("y",bottom+15).attr("text-anchor","middle").attr("font-family",plotFont).attr("font-size",7.2).attr("fill","#333").text("Chr1 Position (Mb)");
  g.append("text").attr("transform",`translate(${x0-12.5},${(top+bottom)/2}) rotate(-90)`).attr("text-anchor","middle").attr("font-family",plotFont).attr("font-size",6.8).attr("fill","#333").text(yTitle);
}
const fCount=d3.format("d"), fBaf=v=>"."+Math.round(v*10);
[[436,613.3,442.7,590,585.7,446,"c"],[671.7,849.3,678.3,825.3,821,680.7,"e"]].forEach(([pt,pb,top,bottom,y0,y1,k])=>{
  const g=blurG.append("g");
  g.append("rect").attr("x",292).attr("y",pt).attr("width",489).attr("height",pb-pt).attr("fill","#eaf2f3");
  seqPlot(g,{x0:316.7,top,bottom,yDom:[0,150],yRange:[y0,y1],yTicks:[0,50,100,150],fmt:fCount,yTitle:"Segment count",
    mass:k==="c"?cCountMass:eCountMass,cloud:k==="c"?cCountCloud:eCountCloud,dots:k==="c"?cCountDots:eCountDots,gaps:[],massGap:2.1,cloudGap:4.6});
  seqPlot(g,{x0:560.7,top,bottom,yDom:[.2,.8],yRange:[y0,y1],yTicks:[.2,.4,.6,.8],fmt:fBaf,yTitle:"B Allele Freq",
    mass:k==="c"?cBafMass:eBafMass,cloud:k==="c"?cBafCloud:eBafCloud,dots:k==="c"?cBafDots:eBafDots,gaps:k==="c"?cBafGaps:eBafGaps,massGap:3.4,cloudGap:k==="c"?6.5:8.5});
});
</script></body></html>
